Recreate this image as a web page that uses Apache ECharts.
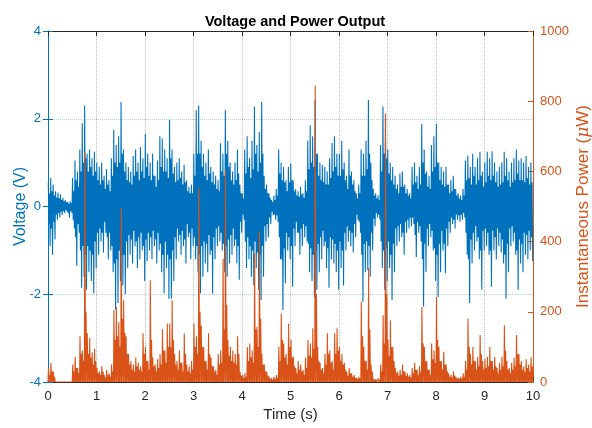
<!DOCTYPE html>
<html>
<head>
<meta charset="utf-8">
<script src="https://cdn.jsdelivr.net/npm/echarts@6/dist/echarts.min.js"></script>
<style>
  html, body { margin: 0; padding: 0; background: #fff; }
  #main { width: 592px; height: 428px; }
</style>
</head>
<body>
<div id="main"></div>
<script>
// bin width in seconds; each bin holds an outer and an inner swing of the voltage
var binStep = 0.05;

// upper voltage swing per bin (V)
var voltHigh = [
	0.55, 0.65, 0.5, 0.35, 0.32, 0.28, 0.2, 0.15, 0.1, 0.12,
	0.65, 1.05, 0.8, 1.3, 1.9, 2.3, 1.2, 1.3, 1.1, 1.25,
	1.0, 0.9, 1.0, 0.7, 0.85, 0.6, 1.1, 1.75, 1.4, 1.6,
	2.38, 1.3, 1.0, 0.9, 0.8, 1.15, 1.3, 1.0, 1.35, 1.1,
	1.65, 1.2, 1.0, 1.2, 0.7, 1.05, 1.6, 1.55, 1.3, 1.1,
	1.97, 1.3, 0.9, 1.0, 1.1, 0.8, 0.95, 0.6, 0.45, 0.5,
	1.2, 2.2, 2.3, 1.5, 1.2, 1.0, 1.3, 0.9, 0.8, 0.7,
	0.6, 1.44, 1.2, 2.2, 1.5, 1.0, 0.8, 1.0, 1.3, 0.5,
	0.3, 1.3, 1.6, 1.1, 1.5, 2.28, 1.4, 1.7, 2.38, 0.7,
	0.5, 0.3, 0.15, 0.25, 0.4, 1.3, 1.0, 0.9, 0.6, 0.9,
	0.98, 0.6, 0.4, 0.35, 0.45, 0.3, 0.6, 1.5, 1.85, 1.6,
	2.43, 1.2, 1.0, 0.95, 0.9, 0.8, 1.1, 1.45, 1.6, 1.2,
	1.2, 1.5, 1.0, 0.7, 1.3, 0.8, 0.6, 0.3, 0.5, 1.3,
	1.2, 1.5, 2.43, 1.0, 0.4, 0.3, 0.25, 1.4, 2.28, 2.1,
	1.3, 1.0, 0.9, 0.7, 0.5, 0.75, 0.8, 0.5, 0.4, 0.3,
	0.9, 1.0, 0.7, 0.9, 1.88, 1.3, 0.8, 0.7, 1.4, 1.6,
	1.88, 1.0, 0.9, 0.8, 0.9, 0.5, 0.6, 0.7, 0.4, 0.3,
	0.25, 0.4, 1.05, 1.16, 0.9, 1.2, 0.9, 1.1, 1.25, 0.8,
	1.0, 1.25, 1.1, 1.26, 1.0, 0.8, 0.9, 1.0, 1.25, 1.1,
	0.8, 1.0, 1.1, 1.3, 1.05, 1.1, 1.0, 1.15, 0.9, 1.0
];

// lower voltage swing per bin (V)
var voltLow = [
	-0.9, -1.1, -0.75, -0.3, -0.25, -0.2, -0.15, -0.12, -0.25, -0.15,
	-0.5, -1.35, -0.6, -1.85, -1.6, -1.9, -1.5, -1.7, -1.98, -1.4,
	-1.1, -0.8, -1.05, -0.6, -1.2, -1.0, -1.5, -2.35, -2.2, -1.7,
	-1.8, -2.0, -1.4, -1.1, -1.3, -0.9, -1.4, -1.2, -1.0, -1.7,
	-1.25, -1.0, -1.2, -0.9, -1.3, -1.0, -1.5, -1.98, -1.4, -2.1,
	-2.1, -1.7, -1.2, -0.8, -1.1, -0.9, -1.3, -0.7, -1.2, -0.9,
	-1.2, -1.5, -1.98, -1.6, -1.3, -1.5, -1.1, -1.98, -1.2, -0.9,
	-0.8, -1.0, -1.5, -1.6, -1.3, -1.1, -0.9, -1.3, -1.67, -0.6,
	-0.3, -1.4, -1.2, -1.6, -1.8, -1.4, -1.9, -2.13, -1.6, -0.8,
	-0.7, -0.4, -0.2, -0.3, -0.35, -1.2, -2.36, -1.75, -1.0, -1.2,
	-1.83, -0.9, -0.6, -1.1, -0.9, -0.7, -0.8, -1.5, -1.7, -2.06,
	-1.9, -1.5, -1.2, -0.9, -1.4, -1.85, -1.2, -1.3, -1.5, -1.9,
	-1.4, -1.8, -1.0, -0.8, -0.9, -1.05, -0.7, -0.3, -0.6, -2.17,
	-1.5, -1.45, -1.6, -1.0, -0.45, -0.25, -0.3, -1.4, -1.9, -1.7,
	-1.4, -2.13, -1.5, -0.9, -0.8, -0.7, -1.1, -0.6, -0.5, -0.45,
	-0.4, -1.15, -0.6, -0.8, -2.28, -1.5, -0.9, -0.7, -1.0, -1.7,
	-2.06, -1.5, -1.0, -1.52, -0.9, -0.6, -0.4, -0.5, -0.3, -0.35,
	-0.3, -0.25, -1.1, -2.2, -1.3, -1.0, -0.8, -1.2, -1.9, -1.0,
	-0.9, -1.1, -1.83, -1.0, -1.2, -0.9, -1.05, -1.3, -2.1, -1.5,
	-0.9, -0.8, -1.1, -1.9, -1.3, -1.5, -1.1, -1.2, -1.0, -1.25
];

// inner (dense core) swings per bin (V)
var coreHigh = [
	0.3, 0.35, 0.25, 0.2, 0.18, 0.15, 0.12, 0.1, 0.06, 0.08,
	0.35, 0.6, 0.45, 0.8, 1.0, 1.1, 0.8, 0.9, 0.7, 0.8,
	0.6, 0.5, 0.6, 0.4, 0.5, 0.35, 0.7, 1.0, 0.9, 1.0,
	1.2, 0.8, 0.6, 0.55, 0.5, 0.7, 0.8, 0.6, 0.8, 0.65,
	0.9, 0.7, 0.6, 0.7, 0.45, 0.6, 0.9, 0.8, 0.8, 0.65,
	1.1, 0.75, 0.55, 0.6, 0.65, 0.5, 0.55, 0.35, 0.3, 0.3,
	0.7, 1.2, 1.2, 0.9, 0.7, 0.6, 0.75, 0.55, 0.5, 0.4,
	0.35, 0.8, 0.7, 1.2, 0.9, 0.6, 0.5, 0.6, 0.75, 0.3,
	0.18, 0.75, 0.9, 0.65, 0.85, 1.2, 0.8, 1.0, 1.2, 0.4,
	0.3, 0.2, 0.1, 0.15, 0.25, 0.75, 0.6, 0.55, 0.35, 0.55,
	0.6, 0.35, 0.25, 0.22, 0.28, 0.2, 0.35, 0.85, 1.0, 0.9,
	1.2, 0.7, 0.6, 0.55, 0.5, 0.5, 0.65, 0.8, 0.9, 0.7,
	0.7, 0.85, 0.6, 0.4, 0.7, 0.5, 0.35, 0.18, 0.3, 0.7,
	0.7, 0.85, 1.2, 0.6, 0.25, 0.18, 0.15, 0.8, 1.2, 1.1,
	0.75, 0.6, 0.5, 0.4, 0.3, 0.45, 0.45, 0.3, 0.25, 0.18,
	0.5, 0.55, 0.4, 0.5, 1.0, 0.75, 0.45, 0.4, 0.8, 0.9,
	1.0, 0.6, 0.5, 0.45, 0.5, 0.3, 0.35, 0.4, 0.25, 0.18,
	0.15, 0.25, 0.6, 0.65, 0.5, 0.7, 0.5, 0.6, 0.7, 0.45,
	0.55, 0.7, 0.6, 0.7, 0.55, 0.45, 0.5, 0.55, 0.7, 0.6,
	0.45, 0.55, 0.6, 0.75, 0.6, 0.6, 0.55, 0.65, 0.5, 0.55
];

var coreLow = [
	-0.4, -0.5, -0.35, -0.18, -0.15, -0.12, -0.1, -0.08, -0.15, -0.1,
	-0.3, -0.7, -0.4, -1.0, -0.9, -1.1, -0.9, -1.0, -1.1, -0.8,
	-0.6, -0.5, -0.6, -0.35, -0.7, -0.6, -0.9, -1.3, -1.2, -1.0,
	-1.1, -1.1, -0.8, -0.65, -0.75, -0.55, -0.8, -0.7, -0.6, -0.9,
	-0.75, -0.6, -0.7, -0.55, -0.75, -0.6, -0.85, -1.1, -0.8, -1.1,
	-1.2, -1.0, -0.7, -0.5, -0.65, -0.55, -0.75, -0.4, -0.6, -0.5,
	-0.7, -0.9, -1.1, -0.9, -0.8, -0.85, -0.65, -1.0, -0.7, -0.5,
	-0.45, -0.6, -0.85, -0.9, -0.75, -0.65, -0.5, -0.75, -0.9, -0.35,
	-0.18, -0.8, -0.7, -0.9, -1.0, -0.8, -1.05, -1.1, -0.9, -0.45,
	-0.4, -0.25, -0.12, -0.18, -0.2, -0.7, -1.2, -0.95, -0.6, -0.7,
	-0.9, -0.5, -0.35, -0.6, -0.5, -0.4, -0.45, -0.85, -0.95, -1.1,
	-1.0, -0.85, -0.7, -0.55, -0.8, -0.95, -0.7, -0.75, -0.85, -1.0,
	-0.8, -1.0, -0.6, -0.45, -0.55, -0.6, -0.4, -0.18, -0.35, -1.1,
	-0.85, -0.8, -0.9, -0.6, -0.28, -0.15, -0.18, -0.8, -1.0, -0.95,
	-0.8, -1.1, -0.85, -0.5, -0.45, -0.4, -0.6, -0.35, -0.3, -0.25,
	-0.25, -0.65, -0.35, -0.45, -1.2, -0.85, -0.5, -0.4, -0.55, -0.95,
	-1.1, -0.85, -0.55, -0.85, -0.5, -0.35, -0.25, -0.3, -0.18, -0.2,
	-0.18, -0.15, -0.6, -1.2, -0.75, -0.6, -0.45, -0.7, -1.0, -0.55,
	-0.5, -0.6, -1.0, -0.55, -0.7, -0.5, -0.6, -0.75, -1.1, -0.85,
	-0.5, -0.45, -0.6, -1.0, -0.75, -0.85, -0.6, -0.65, -0.55, -0.7
];

// instantaneous power, main peak per bin (uW)
var powerPeak = [
	40, 54, 30, 5, 4, 4, 3, 3, 4, 3,
	50, 72, 40, 130, 90, 656, 139, 125, 85, 95,
	40, 30, 45, 20, 35, 25, 50, 205, 214, 170,
	494, 233, 130, 80, 60, 50, 70, 55, 45, 139,
	100, 60, 290, 70, 50, 65, 80, 150, 90, 167,
	167, 233, 80, 60, 90, 55, 139, 50, 45, 60,
	167, 130, 551, 160, 100, 60, 139, 70, 45, 35,
	80, 90, 352, 603, 120, 100, 90, 80, 130, 30,
	20, 25, 100, 110, 90, 366, 157, 428, 80, 50,
	30, 15, 12, 15, 20, 100, 195, 110, 80, 167,
	120, 72, 40, 60, 50, 35, 70, 120, 110, 153,
	845, 100, 55, 40, 80, 139, 90, 60, 139, 153,
	100, 80, 55, 30, 40, 25, 20, 12, 15, 229,
	100, 60, 324, 50, 10, 8, 10, 50, 190, 765,
	120, 176, 100, 40, 30, 35, 50, 30, 25, 20,
	40, 55, 35, 45, 214, 100, 60, 35, 110, 90,
	243, 100, 60, 86, 50, 25, 20, 30, 15, 12,
	15, 25, 60, 181, 80, 100, 60, 72, 134, 60,
	65, 72, 100, 60, 72, 40, 55, 72, 162, 60,
	40, 55, 70, 134, 80, 60, 45, 65, 50, 70
];

// instantaneous power, second peak per bin (uW)
var powerSecond = [
	20, 30, 15, 3, 2, 3, 2, 2, 3, 2,
	30, 40, 25, 80, 60, 200, 80, 70, 50, 60,
	25, 20, 30, 12, 20, 15, 30, 120, 130, 100,
	180, 140, 80, 50, 35, 30, 45, 35, 30, 80,
	60, 35, 120, 45, 30, 40, 50, 90, 55, 100,
	100, 120, 50, 35, 55, 30, 80, 30, 25, 35,
	100, 80, 200, 100, 60, 35, 80, 45, 30, 20,
	50, 55, 150, 220, 75, 60, 55, 50, 80, 18,
	12, 15, 60, 70, 55, 150, 100, 180, 50, 30,
	18, 8, 6, 8, 12, 60, 120, 70, 50, 100,
	70, 45, 25, 35, 30, 20, 40, 75, 70, 95,
	250, 60, 35, 25, 50, 80, 55, 35, 80, 90,
	60, 50, 35, 18, 25, 15, 12, 8, 10, 130,
	60, 35, 150, 30, 6, 5, 6, 30, 110, 250,
	75, 100, 60, 25, 18, 20, 30, 18, 15, 12,
	25, 35, 20, 28, 110, 60, 35, 20, 65, 55,
	120, 60, 35, 50, 30, 15, 12, 18, 10, 8,
	10, 15, 35, 100, 50, 60, 35, 45, 80, 35,
	40, 45, 60, 35, 45, 25, 35, 45, 90, 35,
	25, 35, 45, 80, 50, 35, 28, 40, 30, 45
];

var blue = '#0072BD';
var orange = '#D95319';
var dark = '#262626';
var font = 'Liberation Sans, Arial, Helvetica, sans-serif';

var voltData = [];
var powerData = [];
for (var i = 0; i < voltHigh.length; i++) {
	var t0 = i * binStep;
	voltData.push([t0 + binStep * 0.125, voltHigh[i]]);
	voltData.push([t0 + binStep * 0.375, coreLow[i]]);
	voltData.push([t0 + binStep * 0.625, coreHigh[i]]);
	voltData.push([t0 + binStep * 0.875, voltLow[i]]);
	powerData.push([t0, 0]);
	powerData.push([t0 + binStep * 0.2, powerPeak[i]]);
	powerData.push([t0 + binStep * 0.45, 0]);
	powerData.push([t0 + binStep * 0.7, powerSecond[i]]);
}
powerData.push([voltHigh.length * binStep, 0]);

var myChart = echarts.init(document.getElementById('main'), null, { renderer: 'canvas' });

var option = {
	animation: false,
	backgroundColor: '#fff',
	title: {
		text: 'Voltage and Power Output',
		left: 290,
		textAlign: 'center',
		top: 9,
		textStyle: { fontFamily: font, fontSize: 14.5, fontWeight: 'bold', color: '#000' }
	},
	grid: { left: 48, right: 59, top: 31, bottom: 46, containLabel: false, outerBoundsMode: 'none' },
	xAxis: [{
		type: 'value',
		min: 0,
		max: 10,
		interval: 1,
		name: 'Time (s)',
		nameLocation: 'middle',
		nameGap: 25,
		nameMoveOverlap: false,
		nameTextStyle: { fontFamily: font, fontSize: 15, color: dark },
		axisLine: { show: true, onZero: false, lineStyle: { color: dark, width: 1 } },
		axisTick: { show: true, inside: true, length: 5, lineStyle: { color: dark } },
		axisLabel: { fontFamily: font, fontSize: 13, color: dark, margin: 8 },
		splitLine: { show: true, lineStyle: { color: 'rgba(38,38,38,0.3)', type: 'dotted', width: 1 } }
	}, {
		type: 'value',
		position: 'top',
		min: 0,
		max: 10,
		interval: 1,
		axisLine: { show: true, onZero: false, lineStyle: { color: dark, width: 1 } },
		axisTick: { show: true, inside: true, length: 5, lineStyle: { color: dark } },
		axisLabel: { show: false },
		splitLine: { show: false }
	}],
	yAxis: [{
		type: 'value',
		position: 'left',
		min: -4,
		max: 4,
		interval: 2,
		name: 'Voltage (V)',
		nameLocation: 'middle',
		nameRotate: 90,
		nameGap: 19,
		nameMoveOverlap: false,
		nameTextStyle: { fontFamily: font, fontSize: 16, color: blue },
		axisLine: { show: true, onZero: false, lineStyle: { color: blue, width: 1 } },
		axisTick: { show: true, inside: true, length: 5, lineStyle: { color: blue } },
		axisLabel: { fontFamily: font, fontSize: 13, color: blue, margin: 7 },
		splitLine: { show: true, lineStyle: { color: 'rgba(0,114,189,0.3)', type: 'dotted', width: 1 } }
	}, {
		type: 'value',
		position: 'right',
		min: 0,
		max: 1000,
		interval: 200,
		name: 'Instantaneous Power ({mu|μ}W)',
		nameLocation: 'middle',
		nameRotate: 90,
		nameGap: 42,
		nameMoveOverlap: false,
		nameTextStyle: {
			fontFamily: font, fontSize: 17, color: orange,
			rich: { mu: { fontFamily: 'DejaVu Serif, serif', fontStyle: 'italic', fontSize: 17, color: orange } }
		},
		axisLine: { show: true, onZero: false, lineStyle: { color: orange, width: 1 } },
		axisTick: { show: true, inside: true, length: 5, lineStyle: { color: orange } },
		axisLabel: {
			fontFamily: font, fontSize: 13, color: orange, margin: 7,
			formatter: function (v) { return String(v); }
		},
		splitLine: { show: false }
	}, {
		// mirrored voltage ticks on the right edge
		type: 'value',
		position: 'right',
		min: -4,
		max: 4,
		interval: 2,
		axisLine: { show: false },
		axisTick: { show: true, inside: true, length: 5, lineStyle: { color: blue } },
		axisLabel: { show: false },
		splitLine: { show: false }
	}],
	series: [{
		name: 'Voltage',
		type: 'line',
		xAxisIndex: 0,
		yAxisIndex: 0,
		data: voltData,
		symbol: 'none',
		sampling: null,
		z: 3,
		lineStyle: { color: blue, width: 1.1 }
	}, {
		name: 'Power',
		type: 'line',
		xAxisIndex: 0,
		yAxisIndex: 1,
		data: powerData,
		symbol: 'none',
		z: 4,
		lineStyle: { color: orange, width: 1.1 }
	}]
};

myChart.setOption(option);
</script>
</body>
</html>
